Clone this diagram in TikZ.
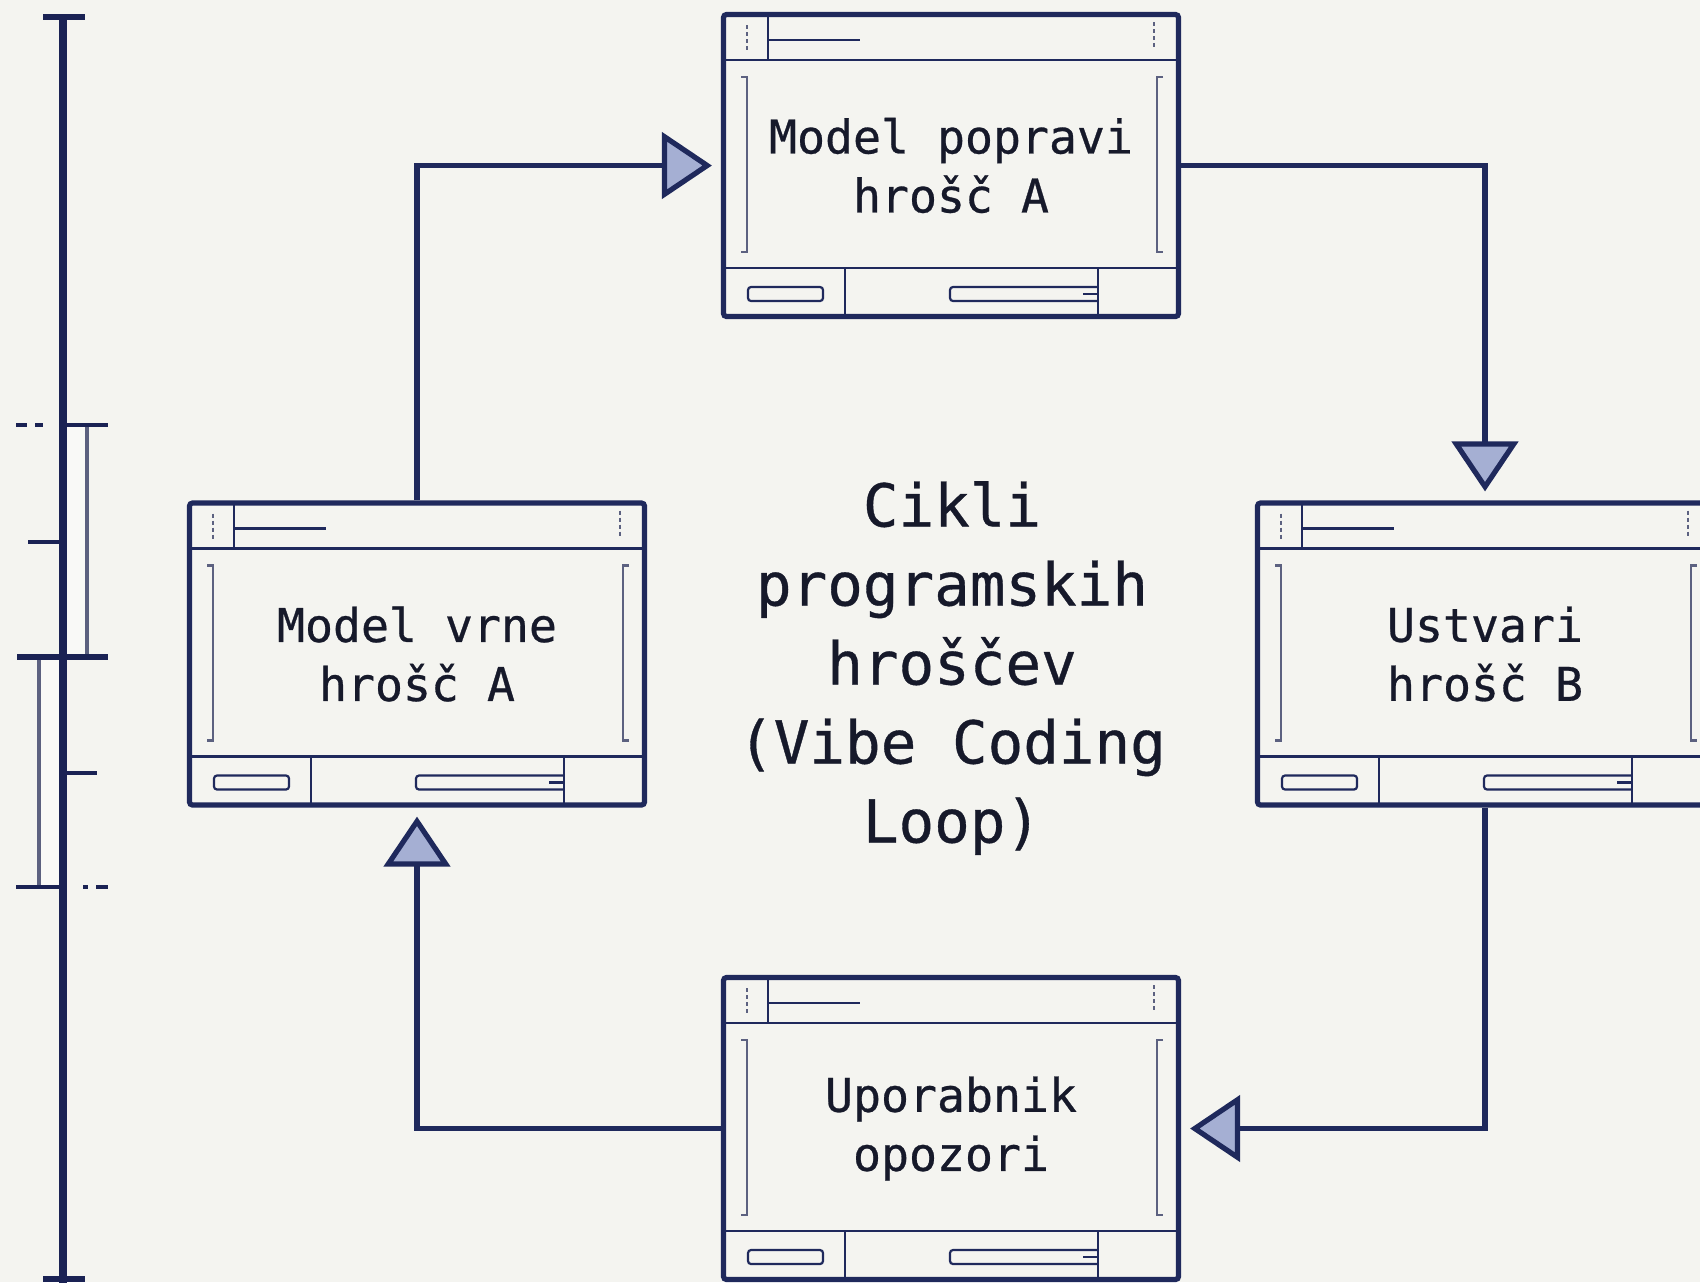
\documentclass[tikz,border=0pt]{standalone}
\usepackage{fontspec}
\newfontfamily\monofam{DejaVu Sans Mono}[FakeBold=0.6]
\usetikzlibrary{arrows.meta}

\definecolor{paper}{RGB}{244,244,240}
\definecolor{navy}{RGB}{31,41,92}
\definecolor{rulenavy}{RGB}{26,34,84}
\definecolor{ink}{RGB}{22,25,42}
\definecolor{tipfill}{RGB}{165,175,211}
\definecolor{steel}{RGB}{92,97,128}
\definecolor{barfill}{RGB}{249,249,247}

% Interior trim of a window-style box, drawn around the node's centre
\newcommand\windeco[1]{%
  \begin{scope}[shift={(#1.center)}]
    % title bar
    \draw[trimline] (-227.5,-105.5) -- (227.5,-105.5);
    \draw[trimline] (-183,-150) -- (-183,-105.5);
    \draw[trimline] (-183,-125.5) -- (-91,-125.5);
    \draw[dotline] (-204,-140.5) -- (-204,-113.5);
    \draw[dotline] (203,-143.5) -- (203,-118.5);
    % side brackets
    \draw[bracketline] (-210,-88.5) -- (-204,-88.5) -- (-204,86.5) -- (-210,86.5);
    \draw[bracketline] (212,-88.5) -- (206,-88.5) -- (206,86.5) -- (212,86.5);
    % status bar
    \draw[trimline] (-227.5,102.5) -- (227.5,102.5);
    \draw[trimline] (-106,102.5) -- (-106,150);
    \draw[trimline] (147,102.5) -- (147,150);
    \draw[trimline, rounded corners=1.5pt] (-203,121.5) rectangle (-128,135.5);
    \draw[trimline, rounded corners=1.5pt] (147,121.5) -- (-1,121.5) -- (-1,135.5) -- (147,135.5);
    \draw[trimline] (132,128.5) -- (147,128.5);
  \end{scope}}

\begin{document}
\begin{tikzpicture}[x=0.5pt, y=-0.5pt,
  winbox/.style={draw=navy, line width=2.6pt, rounded corners=1.5pt, fill=paper,
    minimum width=227.5pt, minimum height=151pt, inner sep=0pt, align=center,
    text=ink, font={\monofam\fontsize{23.25pt}{29.5pt}\selectfont}},
  titletext/.style={align=center, text=ink, inner sep=0pt,
    font={\monofam\fontsize{29.6pt}{39.5pt}\selectfont}},
  flow/.style={draw=navy, line width=2.6pt, shorten >=4.5pt,
    -{Triangle[length=25pt, width=33pt, fill=tipfill]}},
  trimline/.style={draw=navy, line width=1.1pt},
  dotline/.style={draw=steel, line width=1.4pt, dash pattern=on 2pt off 1.5pt},
  bracketline/.style={draw=steel, line width=1.2pt},
  rulemain/.style={draw=rulenavy, line width=3.6pt},
  rulecap/.style={draw=rulenavy, line width=2.6pt},
  ruletick/.style={draw=rulenavy, line width=1.6pt},
  rulebar/.style={draw=steel, line width=1.8pt},
]
\fill[paper] (0,0) rectangle (1700,1282);
\useasboundingbox (0,0) rectangle (1700,1282);
\clip (0,0) rectangle (1700,1282);

% ---- scale bar on the left edge ----
\fill[barfill] (65,425) rectangle (87,657);
\fill[barfill] (39,657) rectangle (61,887);
\draw[rulebar] (87,425) -- (87,657);
\draw[rulebar] (39,657) -- (39,887);
\draw[rulemain] (63,17) -- (63,1290);
\draw[rulecap] (43,17) -- (85,17);
\draw[rulecap] (43,1279) -- (85,1279);
\draw[ruletick] (16,425) -- (27,425);
\draw[ruletick] (35,425) -- (43,425);
\draw[ruletick] (63,425) -- (108,425);
\draw[ruletick] (28,542) -- (63,542);
\draw[rulecap] (17,657) -- (108,657);
\draw[ruletick] (63,773) -- (97,773);
\draw[ruletick] (16,887) -- (63,887);
\draw[ruletick] (83,887) -- (88,887);
\draw[ruletick] (96,887) -- (108,887);

% ---- the four steps ----
\node[winbox] (fix)    at (951,165.5)  {Model popravi\\hrošč A};
\node[winbox] (create) at (1485,654)   {Ustvari\\hrošč B};
\node[winbox] (warn)   at (951,1128.5) {Uporabnik\\opozori};
\node[winbox] (revert) at (417,654)    {Model vrne\\hrošč A};
\windeco{fix}
\windeco{create}
\windeco{warn}
\windeco{revert}

% ---- loop title ----
\node[titletext] (title) at (952,668)
  {Cikli\\programskih\\hroščev\\(Vibe Coding\\Loop)};

% ---- loop connectors ----
\draw[flow] (revert.north) |- (fix.west);
\draw[flow] (fix.east) -| (create.north);
\draw[flow] (create.south) |- (warn.east);
\draw[flow] (warn.west) -| (revert.south);
\end{tikzpicture}
\end{document}
